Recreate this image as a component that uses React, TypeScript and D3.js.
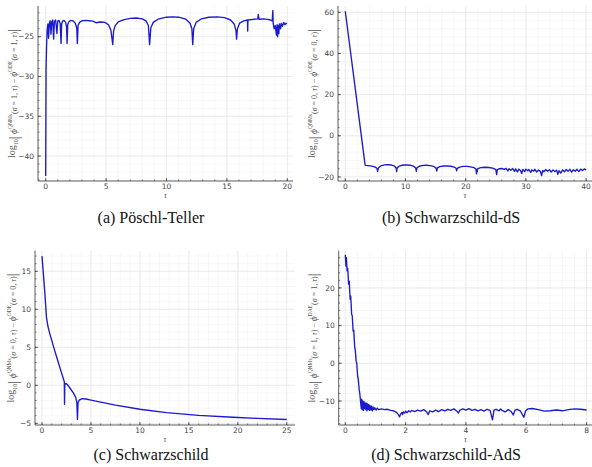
import React from 'react';
import * as d3 from 'd3';

// ---------- DATA ----------
// (a) Pöschl-Teller
const tauA = [0, 0.03, 0.07, 0.12, 0.18, 0.24, 0.3, 0.37, 0.44, 0.5, 0.58, 0.66, 0.72, 0.82, 0.93, 1.0, 1.1, 1.2, 1.27, 1.32, 1.4, 1.52, 1.65, 1.73, 1.77, 1.82, 1.9, 2.05, 2.25, 2.45, 2.57, 2.62, 2.68, 2.8, 3.0, 3.3, 3.6, 3.9, 4.2, 4.5, 4.9, 5.2, 5.4, 5.55, 5.62, 5.75, 6.0, 6.5, 7.0, 7.5, 8.0, 8.3, 8.5, 8.6, 8.7, 8.9, 9.3, 10.0, 10.5, 11.0, 11.6, 11.95, 12.1, 12.17, 12.25, 12.45, 12.9, 13.5, 14.2, 14.8, 15.3, 15.6, 15.75, 15.8, 15.87, 16.05, 16.4, 16.7, 16.72, 16.74, 17.0, 17.55, 17.6, 17.65, 18.0, 18.5, 18.75, 18.8, 18.83, 18.9, 19.0, 19.1, 19.15, 19.2, 19.25, 19.3, 19.35, 19.45, 19.5, 19.6, 19.7, 19.8, 19.9, 19.95];
const valA = [-42.5, -29, -26.3, -24.2, -23.4, -25.2, -23.3, -23.0, -24.7, -23.1, -22.9, -25.3, -23.1, -22.9, -24.6, -23.0, -22.95, -23.3, -25.85, -23.4, -23.05, -22.95, -23.2, -23.8, -25.85, -23.5, -23.15, -22.95, -23.0, -23.3, -23.9, -25.85, -23.6, -23.2, -23.0, -22.95, -23.0, -23.05, -23.25, -23.15, -23.2, -23.5, -24.2, -26.0, -24.3, -23.6, -23.15, -22.85, -22.7, -22.65, -22.75, -23.0, -23.6, -26.0, -23.9, -23.2, -22.8, -22.55, -22.5, -22.55, -22.8, -23.3, -24.0, -26.0, -24.0, -23.2, -22.75, -22.55, -22.5, -22.6, -22.9, -23.4, -24.2, -25.3, -24.0, -23.3, -23.0, -22.9, -24.3, -22.9, -22.85, -22.75, -22.2, -22.8, -22.75, -22.85, -23.0, -21.7, -23.3, -24.0, -23.6, -24.8, -23.5, -25.0, -23.6, -24.6, -23.4, -24.0, -23.3, -23.7, -23.2, -23.5, -23.3, -23.4];

// (b) Schwarzschild-dS
const tauB = [0, 3.3, 4.2, 4.9, 5.25, 5.37, 5.5, 5.9, 6.5, 7.1, 7.7, 8.2, 8.45, 8.53, 8.62, 9.0, 9.6, 10.2, 10.8, 11.4, 11.7, 11.8, 11.9, 12.3, 12.9, 13.5, 14.1, 14.7, 15.05, 15.2, 15.3, 15.7, 16.3, 16.9, 17.5, 18.1, 18.4, 18.5, 18.6, 19.0, 19.6, 20.2, 20.8, 21.4, 21.7, 21.8, 21.85, 21.9, 22.0, 22.5, 23.2, 23.8, 24.5, 25.0, 25.15, 25.25, 25.6, 26.0, 26.4, 26.7, 27.0, 27.2, 27.5, 27.8, 28.1, 28.3, 28.6, 28.8, 29.1, 29.3, 29.5, 29.8, 30.0, 30.3, 30.5, 30.8, 31.0, 31.3, 31.5, 31.8, 32.1, 32.4, 32.6, 32.8, 33.0, 33.3, 33.6, 33.9, 34.2, 34.5, 34.8, 35.1, 35.3, 35.5, 35.8, 36.1, 36.4, 36.7, 37.0, 37.3, 37.6, 37.9, 38.2, 38.5, 38.8, 39.1, 39.4, 39.7, 40.0];
const valB = [60.5, -14.4, -14.6, -15.1, -15.8, -17.3, -15.7, -14.6, -14.1, -14.0, -14.2, -14.8, -15.7, -17.4, -15.6, -14.7, -14.2, -14.1, -14.3, -14.9, -15.7, -17.3, -15.6, -14.8, -14.4, -14.3, -14.5, -14.9, -15.6, -17.2, -15.6, -15.0, -14.7, -14.6, -14.8, -15.2, -15.8, -17.0, -15.8, -15.2, -14.9, -14.9, -15.1, -15.5, -16.2, -18.5, -16.6, -17.5, -16.0, -15.5, -15.3, -15.4, -15.7, -16.4, -18.9, -16.4, -16.0, -15.9, -16.3, -15.8, -17.1, -16.0, -16.8, -15.9, -17.3, -16.1, -17.6, -16.2, -16.9, -18.3, -16.3, -17.4, -16.2, -17.0, -16.4, -17.8, -16.5, -17.2, -16.3, -17.6, -16.6, -17.3, -19.3, -16.8, -17.5, -16.4, -17.2, -16.5, -17.6, -16.6, -17.4, -16.7, -18.7, -17.0, -18.1, -16.6, -17.5, -16.4, -17.3, -16.3, -17.7, -16.5, -17.2, -16.3, -17.4, -16.2, -16.9, -16.1, -16.6];

// (c) Schwarzschild
const tauC = [0, 0.3, 0.45, 0.6, 0.75, 1.2, 1.6, 2.0, 2.2, 2.28, 2.3, 2.33, 2.42, 2.6, 2.9, 3.2, 3.45, 3.56, 3.62, 3.68, 3.8, 4.1, 4.5, 5.0, 6.0, 7.5, 10, 12.7, 16, 19.5, 22, 25];
const valC = [17.0, 12.0, 9.0, 7.8, 7.0, 5.0, 3.3, 1.6, 0.8, 0.45, -2.5, 0.1, 0.25, 0.1, -0.45, -1.0, -1.6, -2.3, -4.5, -2.3, -1.95, -1.75, -1.8, -1.95, -2.22, -2.6, -3.15, -3.6, -3.95, -4.2, -4.35, -4.5];

// (d) Schwarzschild-AdS
const tauD = [0.0, 0.02, 0.035, 0.06, 0.08, 0.11, 0.13, 0.16, 0.18, 0.21, 0.23, 0.26, 0.28, 0.31, 0.33, 0.36, 0.38, 0.41, 0.43, 0.46, 0.48, 0.51, 0.53, 0.545, 0.56, 0.58, 0.6, 0.62, 0.64, 0.66, 0.68, 0.70, 0.72, 0.74, 0.76, 0.78, 0.80, 0.82, 0.85, 0.87, 0.9, 0.92, 0.95, 0.98, 1.02, 1.06, 1.1, 1.2, 1.3, 1.4, 1.5, 1.6, 1.7, 1.76, 1.8, 1.84, 1.88, 1.9, 1.93, 1.97, 2.0, 2.05, 2.1, 2.15, 2.2, 2.3, 2.4, 2.5, 2.6, 2.7, 2.75, 2.8, 2.9, 3.0, 3.1, 3.2, 3.3, 3.4, 3.5, 3.6, 3.7, 3.75, 3.8, 3.9, 4.0, 4.1, 4.2, 4.3, 4.4, 4.5, 4.6, 4.7, 4.8, 4.88, 4.93, 5.0, 5.1, 5.15, 5.2, 5.3, 5.4, 5.5, 5.57, 5.63, 5.7, 5.8, 5.92, 5.98, 6.05, 6.2, 6.4, 6.6, 6.8, 7.0, 7.2, 7.4, 7.6, 7.8, 8.0];
const valD = [28.8, 25.8, 28.0, 24.5, 25.2, 21.0, 21.8, 17.0, 17.8, 13.0, 12.6, 8.5, 8.8, 4.5, 3.5, 0.5, 0.0, -3.5, -4.2, -7.0, -8.0, -10.5, -12.0, -9.5, -12.3, -10.0, -12.5, -10.2, -12.0, -10.5, -12.3, -10.6, -12.6, -10.8, -12.2, -11.0, -12.5, -11.2, -12.4, -11.4, -12.6, -11.6, -12.3, -11.8, -12.4, -11.9, -12.3, -12.1, -12.3, -12.2, -12.5, -12.6, -13.0, -13.6, -14.2, -13.4, -13.0, -13.6, -12.9, -13.2, -12.7, -13.1, -12.6, -12.9, -12.5, -12.8, -12.4, -12.7, -12.3, -12.9, -13.6, -12.6, -12.9, -12.4, -12.8, -12.3, -12.6, -12.2, -12.5, -12.1, -12.7, -13.2, -12.4, -12.1, -12.4, -12.0, -12.5, -12.2, -12.6, -12.3, -12.7, -12.2, -12.5, -15.0, -12.4, -12.2, -12.6, -12.1, -12.5, -12.9, -12.3, -12.8, -13.7, -12.4, -12.2, -12.6, -14.3, -12.6, -12.1, -12.0, -12.3, -12.7, -12.6, -12.4, -12.6, -12.3, -12.1, -12.2, -12.4];

const xTicksA = [0, 5, 10, 15, 20];
const yTicksA = [-40, -35, -30, -25];
const xTicksB = [0, 10, 20, 30, 40];
const yTicksB = [-20, 0, 20, 40, 60];
const xTicksC = [0, 5, 10, 15, 20, 25];
const yTicksC = [-5, 0, 5, 10, 15];
const xTicksD = [0, 2, 4, 6, 8];
const yTicksD = [-10, 0, 10, 20];

const captions = ['(a) Pöschl-Teller', '(b) Schwarzschild-dS', '(c) Schwarzschild', '(d) Schwarzschild-AdS'];

// ---------- RENDERING ----------
type PanelProps = {
  left: number; right: number; top: number; bottom: number;
  xDomain: [number, number]; yDomain: [number, number];
  xTicks: number[]; yTicks: number[]; xMinor: number; yMinor: number;
  tau: number[]; val: number[];
  sigma: string; other: string; labelX: number;
};

const LINE = '#1a1ad0';
const GRID = '#e6e6e6';
const MINOR = '#f3f3f3';
const AX = '#333';
const SERIF = "'Liberation Serif', serif";
const SANS = "'DejaVu Sans', sans-serif";

function minorTicks(dom: [number, number], step: number) {
  const out: number[] = [];
  const start = Math.ceil(dom[0] / step - 1e-9);
  for (let k = start; k * step <= dom[1] + 1e-9; k++) out.push(+(k * step).toFixed(6));
  return out;
}

function Panel(p: PanelProps) {
  const x = d3.scaleLinear().domain(p.xDomain).range([p.left, p.right]);
  const y = d3.scaleLinear().domain(p.yDomain).range([p.bottom, p.top]);
  const pts = p.tau.map((t, i) => [t, p.val[i]] as [number, number]);
  const line = d3.line<[number, number]>().x(d => x(d[0])).y(d => y(d[1]));
  const xm = minorTicks(p.xDomain, p.xMinor);
  const ym = minorTicks(p.yDomain, p.yMinor);
  const cy = (p.top + p.bottom) / 2;
  const cx = (p.left + p.right) / 2;
  return (
    <g>
      {xm.map((v, i) => <line key={'xm' + i} x1={x(v)} x2={x(v)} y1={p.top} y2={p.bottom} stroke={MINOR} strokeWidth={0.6} />)}
      {ym.map((v, i) => <line key={'ym' + i} x1={p.left} x2={p.right} y1={y(v)} y2={y(v)} stroke={MINOR} strokeWidth={0.6} />)}
      {p.xTicks.map((v, i) => <line key={'xg' + i} x1={x(v)} x2={x(v)} y1={p.top} y2={p.bottom} stroke={GRID} strokeWidth={0.7} />)}
      {p.yTicks.map((v, i) => <line key={'yg' + i} x1={p.left} x2={p.right} y1={y(v)} y2={y(v)} stroke={GRID} strokeWidth={0.7} />)}
      <path d={line(pts) || ''} fill="none" stroke={LINE} strokeWidth={1.35} strokeLinejoin="round" />
      <line x1={p.left} x2={p.left} y1={p.top} y2={p.bottom} stroke={AX} strokeWidth={0.8} />
      <line x1={p.left} x2={p.right} y1={p.bottom} y2={p.bottom} stroke={AX} strokeWidth={0.8} />
      {xm.map((v, i) => <line key={'xmt' + i} x1={x(v)} x2={x(v)} y1={p.bottom} y2={p.bottom - 1.5} stroke={AX} strokeWidth={0.6} />)}
      {ym.map((v, i) => <line key={'ymt' + i} x1={p.left} x2={p.left + 1.5} y1={y(v)} y2={y(v)} stroke={AX} strokeWidth={0.6} />)}
      {p.xTicks.map((v, i) => <line key={'xt' + i} x1={x(v)} x2={x(v)} y1={p.bottom} y2={p.bottom - 3} stroke={AX} strokeWidth={0.7} />)}
      {p.yTicks.map((v, i) => <line key={'yt' + i} x1={p.left} x2={p.left + 3} y1={y(v)} y2={y(v)} stroke={AX} strokeWidth={0.7} />)}
      {p.xTicks.map((v, i) => (
        <text key={'xl' + i} x={x(v)} y={p.bottom + 8} textAnchor="middle" fontSize={7.5} fill="#444" fontFamily={SANS}>{v}</text>
      ))}
      {p.yTicks.map((v, i) => (
        <text key={'yl' + i} x={p.left - 4} y={y(v) + 2.7} textAnchor="end" fontSize={7.5} fill="#444" fontFamily={SANS}>{v < 0 ? '\u2212' + Math.abs(v) : v}</text>
      ))}
      <text x={cx} y={p.bottom + 17} textAnchor="middle" fontSize={8} fill="#555" fontFamily={SERIF} fontStyle="italic">τ</text>
      <text transform={`translate(${p.labelX},${cy}) rotate(-90)`} textAnchor="middle" fill="#555" fontFamily={SERIF} fontSize={8}>
        <tspan fontSize={10}>log</tspan>
        <tspan fontSize={6} dy={2.5}>10</tspan>
        <tspan fontSize={15} dy={1}>|</tspan>
        <tspan fontStyle="italic" fontSize={9.5} dy={-1.5}> ϕ</tspan>
        <tspan fontSize={5.5} dy={-5}>QNMs</tspan>
        <tspan dy={5}>(</tspan><tspan fontStyle="italic">σ</tspan><tspan>{` = ${p.sigma}, `}</tspan><tspan fontStyle="italic">τ</tspan><tspan>) − </tspan>
        <tspan fontStyle="italic" fontSize={9.5}>ϕ</tspan>
        <tspan fontSize={5.5} dy={-5}>{p.other}</tspan>
        <tspan dy={5}>(</tspan><tspan fontStyle="italic">σ</tspan><tspan>{` = ${p.sigma}, `}</tspan><tspan fontStyle="italic">τ</tspan><tspan>)</tspan>
        <tspan fontSize={15} dy={0.5}>|</tspan>
      </text>
    </g>
  );
}

export default function App() {
  return (
    <svg width={592} height={467} style={{ position: 'absolute', left: 0, top: 0, background: '#fff' }}>
      <rect x={0} y={0} width={592} height={467} fill="#fff" />
      <Panel left={38} right={293} top={6} bottom={181} xDomain={[-0.637, 20.47]} yDomain={[-43.14, -21.14]}
        xTicks={xTicksA} yTicks={yTicksA} xMinor={1} yMinor={1} tau={tauA} val={valA} sigma="1" other="ODE" labelX={15} />
      <Panel left={338} right={592} top={6} bottom={181} xDomain={[-1.21, 40.98]} yDomain={[-21.97, 63.06]}
        xTicks={xTicksB} yTicks={yTicksB} xMinor={2} yMinor={4} tau={tauB} val={valB} sigma="0" other="ODE" labelX={315} />
      <Panel left={35} right={295} top={250.7} bottom={425} xDomain={[-0.715, 25.84]} yDomain={[-5.22, 17.71]}
        xTicks={xTicksC} yTicks={yTicksC} xMinor={1} yMinor={1} tau={tauC} val={valC} sigma="0" other="ODE" labelX={14} />
      <Panel left={338.7} right={592} top={250.7} bottom={425} xDomain={[-0.219, 8.18]} yDomain={[-16.37, 29.87]}
        xTicks={xTicksD} yTicks={yTicksD} xMinor={0.4} yMinor={2} tau={tauD} val={valD} sigma="1" other="DAE" labelX={315} />
      <text x={151} y={223} textAnchor="middle" fontFamily={SERIF} fontSize={16} fill="#111">{captions[0]}</text>
      <text x={451} y={223} textAnchor="middle" fontFamily={SERIF} fontSize={16} fill="#111">{captions[1]}</text>
      <text x={151} y={460} textAnchor="middle" fontFamily={SERIF} fontSize={16} fill="#111">{captions[2]}</text>
      <text x={446} y={460} textAnchor="middle" fontFamily={SERIF} fontSize={16} fill="#111">{captions[3]}</text>
    </svg>
  );
}
